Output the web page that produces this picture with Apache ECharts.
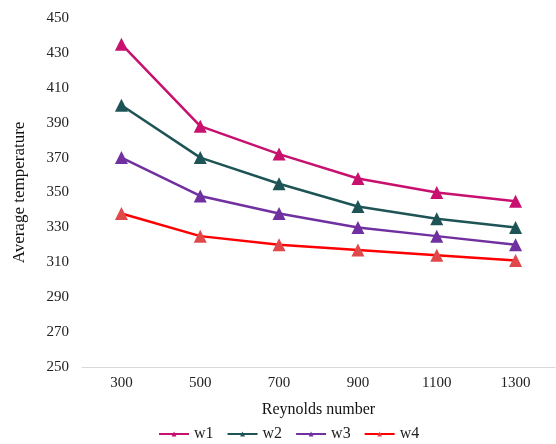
<!DOCTYPE html>
<html><head><meta charset="utf-8">
<script src="https://cdn.jsdelivr.net/npm/echarts@6/dist/echarts.min.js"></script>
<style>html,body{margin:0;padding:0;background:#fff}#c{width:556px;height:444px}</style>
</head><body><div id="c"></div>
<script>
var categories = ['300','500','700','900','1100','1300'];
var w1 = [435, 388, 372, 358, 350, 345];
var w2 = [400, 370, 355, 342, 335, 330];
var w3 = [370, 348, 338, 330, 325, 320];
var w4 = [338, 325, 320, 317, 314, 311];
var seriesNames = ['w1','w2','w3','w4'];
var lineColors = ['#C8106E','#1E5455','#7030A0','#FF0000'];
var markColors = ['#C8106E','#1E5455','#7030A0','#E0484A'];
var data = [w1,w2,w3,w4];
var font = '"Liberation Serif", "Times New Roman", serif';
var chart = echarts.init(document.getElementById('c'));
chart.setOption({
  animation:false,
  textStyle:{fontFamily:font},
  grid:{left:82,right:1,top:18,bottom:77,containLabel:false,outerBoundsMode:'none'},
  legend:{
    bottom:2,left:158,padding:0,itemWidth:30,itemHeight:6,itemGap:13,
    textStyle:{fontFamily:font,fontSize:16,color:'#222'},
    data:seriesNames
  },
  xAxis:{
    type:'category',data:categories,boundaryGap:true,
    name:'Reynolds number',nameLocation:'middle',nameGap:35,
    nameTextStyle:{fontFamily:font,fontSize:16,color:'#111'},
    axisLine:{lineStyle:{color:'#D9D9D9',width:1}},
    axisTick:{show:false},
    axisLabel:{fontFamily:font,fontSize:15,color:'#222',margin:9}
  },
  yAxis:{
    type:'value',min:250,max:450,interval:20,
    name:'Average temperature',nameLocation:'middle',nameGap:54,
    nameTextStyle:{fontFamily:font,fontSize:17,color:'#111'},
    axisLine:{show:false},axisTick:{show:false},splitLine:{show:false},
    axisLabel:{fontFamily:font,fontSize:15,color:'#222',margin:13}
  },
  series:data.map(function(d,i){return {
    name:seriesNames[i],type:'line',data:d,
    symbol:'triangle',symbolSize:13,
    lineStyle:{color:lineColors[i],width:2.5},
    itemStyle:{color:markColors[i]}
  };})
});
</script></body></html>
